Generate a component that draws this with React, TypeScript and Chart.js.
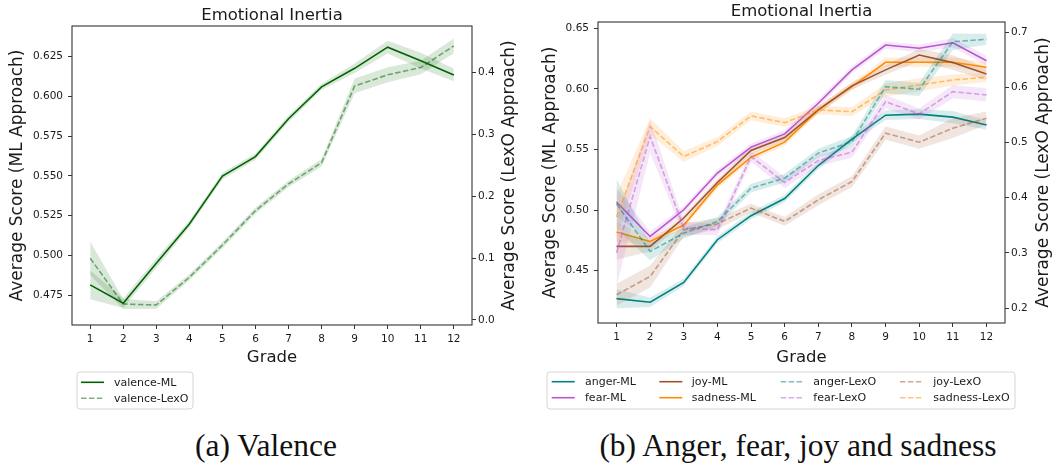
import React, { useEffect, useRef } from "react";
import { Chart, registerables } from "chart.js";

Chart.register(...registerables);

// ---------------- data ----------------
const grades = [1, 2, 3, 4, 5, 6, 7, 8, 9, 10, 11, 12];

// (a) Valence
const valenceML = [0.4815, 0.470, 0.4951, 0.5198, 0.550, 0.5622, 0.586, 0.606, 0.6177, 0.631, 0.6225, 0.6135];
const valenceMLCI = [0.009, 0.003, 0.003, 0.002, 0.002, 0.002, 0.002, 0.002, 0.003, 0.004, 0.005, 0.004];
const valenceLexO = [0.0997, 0.0258, 0.0242, 0.069, 0.121, 0.1766, 0.2197, 0.254, 0.378, 0.396, 0.4077, 0.4426];
const valenceLexOCI = [0.027, 0.008, 0.006, 0.005, 0.005, 0.005, 0.005, 0.006, 0.012, 0.012, 0.011, 0.012];

// (b) Anger, fear, joy and sadness
const angerML = [0.427, 0.424, 0.4404, 0.4756, 0.4954, 0.5096, 0.5368, 0.5586, 0.5783, 0.5792, 0.5767, 0.5703];
const angerMLCI = [0.008, 0.004, 0.003, 0.003, 0.003, 0.003, 0.003, 0.003, 0.004, 0.004, 0.005, 0.004];
const fearML = [0.5067, 0.4783, 0.5003, 0.5306, 0.552, 0.5629, 0.5882, 0.6157, 0.6362, 0.6335, 0.6381, 0.6233];
const fearMLCI = [0.012, 0.004, 0.003, 0.003, 0.003, 0.003, 0.003, 0.003, 0.003, 0.003, 0.004, 0.004];
const joyML = [0.4701, 0.4701, 0.4935, 0.5228, 0.5492, 0.5599, 0.5827, 0.6025, 0.6157, 0.628, 0.6217, 0.6124];
const joyMLCI = [0.011, 0.004, 0.003, 0.003, 0.003, 0.003, 0.003, 0.003, 0.004, 0.005, 0.006, 0.005];
const sadnessML = [0.482, 0.4742, 0.4877, 0.5207, 0.5437, 0.5561, 0.5827, 0.6019, 0.622, 0.622, 0.622, 0.6179];
const sadnessMLCI = [0.008, 0.003, 0.003, 0.003, 0.003, 0.003, 0.003, 0.003, 0.004, 0.004, 0.004, 0.004];

const angerLexO = [0.389, 0.3025, 0.3359, 0.3569, 0.4174, 0.4355, 0.4808, 0.5018, 0.6014, 0.5967, 0.683, 0.6873];
const angerLexOCI = [0.045, 0.016, 0.01, 0.008, 0.008, 0.008, 0.008, 0.01, 0.012, 0.012, 0.015, 0.01];
const fearLexO = [0.3, 0.511, 0.345, 0.3419, 0.4746, 0.4275, 0.4674, 0.4826, 0.5743, 0.552, 0.5924, 0.5864];
const fearLexOCI = [0.06, 0.03, 0.012, 0.01, 0.01, 0.01, 0.01, 0.01, 0.012, 0.01, 0.012, 0.012];
const joyLexO = [0.224, 0.2572, 0.3418, 0.3527, 0.3812, 0.357, 0.3962, 0.4293, 0.517, 0.5007, 0.5261, 0.5442];
const joyLexOCI = [0.02, 0.02, 0.012, 0.01, 0.008, 0.008, 0.01, 0.01, 0.012, 0.012, 0.018, 0.012];
const sadnessLexO = [0.365, 0.529, 0.4746, 0.5018, 0.5484, 0.5362, 0.5592, 0.5561, 0.5955, 0.6045, 0.6136, 0.6185];
const sadnessLexOCI = [0.04, 0.015, 0.01, 0.008, 0.008, 0.008, 0.008, 0.008, 0.012, 0.012, 0.01, 0.008];

// axis ranges / tick steps
const xRange = [0.45, 12.55];
const valenceMLRange = [0.4563, 0.6443];
const valenceLexORange = [-0.0081, 0.4748];
const emoMLRange = [0.4069, 0.6552];
const emoLexORange = [0.1728, 0.7187];

// ---------------- styling ----------------
const FONT = '"DejaVu Sans", Verdana, sans-serif';
const TEXT = "#1a1a1a";
const DASH = [5.5, 2.4];

type Series = {
  label: string;
  values: number[];
  ci: number[];
  color: string;
  fill: string;
  dashed: boolean;
  axis: "yL" | "yR";
};

const rgba = (hex: string, a: number) => {
  const n = parseInt(hex.slice(1), 16);
  return `rgba(${(n >> 16) & 255},${(n >> 8) & 255},${n & 255},${a})`;
};

const GREEN = "#006400";
const TEAL = "#008080";
const ORCHID = "#BA55D3";
const SIENNA = "#A0522D";
const ORANGE = "#FF8C00";

const mk = (label: string, values: number[], ci: number[], base: string, lexo: boolean): Series => ({
  label,
  values,
  ci,
  color: lexo ? rgba(base, 0.5) : base,
  fill: rgba(base, 0.15),
  dashed: lexo,
  axis: lexo ? "yR" : "yL",
});

const valenceSeries: Series[] = [
  mk("valence-ML", valenceML, valenceMLCI, GREEN, false),
  mk("valence-LexO", valenceLexO, valenceLexOCI, GREEN, true),
];

const emoSeries: Series[] = [
  mk("anger-ML", angerML, angerMLCI, TEAL, false),
  mk("fear-ML", fearML, fearMLCI, ORCHID, false),
  mk("joy-ML", joyML, joyMLCI, SIENNA, false),
  mk("sadness-ML", sadnessML, sadnessMLCI, ORANGE, false),
  mk("anger-LexO", angerLexO, angerLexOCI, TEAL, true),
  mk("fear-LexO", fearLexO, fearLexOCI, ORCHID, true),
  mk("joy-LexO", joyLexO, joyLexOCI, SIENNA, true),
  mk("sadness-LexO", sadnessLexO, sadnessLexOCI, ORANGE, true),
];

type Panel = {
  width: number;
  height: number;
  area: { left: number; right: number; top: number; bottom: number };
  series: Series[];
  yL: { range: number[]; step: number; dec: number; title: string; titleX: number; pad: number };
  yR: { range: number[]; step: number; dec: number; title: string; titleX: number; pad: number };
  gradeY: number;
  legend: {
    box: { x: number; y: number; w: number; h: number };
    lineX: number[];
    textX: number[];
    rowY: number[];
    rows: number;
  };
};

function buildDatasets(series: Series[]) {
  const ds: any[] = [];
  series.forEach((s) => {
    const lexoOrder = s.dashed ? 0 : 10;
    ds.push({
      label: s.label + " upper",
      data: grades.map((g, i) => ({ x: g, y: s.values[i] + s.ci[i] })),
      yAxisID: s.axis,
      borderColor: "rgba(0,0,0,0)",
      borderWidth: 0,
      pointRadius: 0,
      fill: false,
      order: lexoOrder + 5,
    });
    ds.push({
      label: s.label + " lower",
      data: grades.map((g, i) => ({ x: g, y: s.values[i] - s.ci[i] })),
      yAxisID: s.axis,
      borderColor: "rgba(0,0,0,0)",
      borderWidth: 0,
      pointRadius: 0,
      fill: "-1",
      backgroundColor: s.fill,
      order: lexoOrder + 5,
    });
  });
  series.forEach((s) => {
    ds.push({
      label: s.label,
      data: grades.map((g, i) => ({ x: g, y: s.values[i] })),
      yAxisID: s.axis,
      borderColor: s.color,
      borderWidth: 1.6,
      borderDash: s.dashed ? DASH : [],
      pointRadius: 0,
      fill: false,
      order: s.dashed ? 1 : 11,
    });
  });
  return ds;
}

function decorPlugin(p: Panel) {
  return {
    id: "decor",
    afterDraw(chart: any) {
      const { ctx, chartArea: a } = chart;
      ctx.save();
      // frame (all four spines)
      ctx.strokeStyle = "#333";
      ctx.lineWidth = 1.1;
      ctx.setLineDash([]);
      ctx.strokeRect(a.left, a.top, a.right - a.left, a.bottom - a.top);

      const cx = (a.left + a.right) / 2;
      const cy = (a.top + a.bottom) / 2;
      ctx.fillStyle = TEXT;
      // title
      ctx.font = `16.5px ${FONT}`;
      ctx.textAlign = "center";
      ctx.textBaseline = "alphabetic";
      ctx.fillText("Emotional Inertia", cx, a.top - 6);
      // x title
      ctx.font = `16.5px ${FONT}`;
      ctx.fillText("Grade", cx, p.gradeY);
      // y titles, both reading bottom-to-top
      ctx.font = `17px ${FONT}`;
      ctx.textBaseline = "middle";
      [p.yL, p.yR].forEach((ax) => {
        ctx.save();
        ctx.translate(ax.titleX, cy);
        ctx.rotate(-Math.PI / 2);
        ctx.fillText(ax.title, 0, 0);
        ctx.restore();
      });

      // legend
      const L = p.legend;
      const b = L.box;
      ctx.beginPath();
      const r = 3;
      ctx.moveTo(b.x + r, b.y);
      ctx.lineTo(b.x + b.w - r, b.y);
      ctx.arcTo(b.x + b.w, b.y, b.x + b.w, b.y + r, r);
      ctx.lineTo(b.x + b.w, b.y + b.h - r);
      ctx.arcTo(b.x + b.w, b.y + b.h, b.x + b.w - r, b.y + b.h, r);
      ctx.lineTo(b.x + r, b.y + b.h);
      ctx.arcTo(b.x, b.y + b.h, b.x, b.y + b.h - r, r);
      ctx.lineTo(b.x, b.y + r);
      ctx.arcTo(b.x, b.y, b.x + r, b.y, r);
      ctx.closePath();
      ctx.fillStyle = "rgba(255,255,255,0.8)";
      ctx.fill();
      ctx.strokeStyle = "#d6d6d6";
      ctx.lineWidth = 1;
      ctx.stroke();

      ctx.font = `11px ${FONT}`;
      ctx.textAlign = "left";
      ctx.textBaseline = "middle";
      p.series.forEach((s, i) => {
        const col = Math.floor(i / L.rows);
        const row = i % L.rows;
        const y = L.rowY[row];
        const x0 = L.lineX[col];
        ctx.strokeStyle = s.color;
        ctx.lineWidth = 1.6;
        ctx.setLineDash(s.dashed ? DASH : []);
        ctx.beginPath();
        ctx.moveTo(x0, y);
        ctx.lineTo(x0 + 23, y);
        ctx.stroke();
        ctx.setLineDash([]);
        ctx.fillStyle = TEXT;
        ctx.fillText(s.label, L.textX[col], y + 0.5);
      });
      ctx.restore();
    },
  };
}

function makeConfig(p: Panel): any {
  const tickFont = { family: FONT, size: 10.5 };
  const grid = { display: true, drawOnChartArea: false, drawTicks: true, tickLength: 4, color: "#333", lineWidth: 1 };
  const yScale = (ax: Panel["yL"], pos: "left" | "right") => ({
    type: "linear",
    position: pos,
    min: ax.range[0],
    max: ax.range[1],
    grid,
    border: { display: false },
    ticks: {
      stepSize: ax.step,
      includeBounds: false,
      autoSkip: false,
      font: tickFont,
      color: TEXT,
      padding: ax.pad,
      callback: (v: any) => Number(v).toFixed(ax.dec),
    },
    afterFit: (s: any) => {
      s.width = pos === "left" ? p.area.left : p.width - p.area.right;
    },
  });
  return {
    type: "line",
    data: { datasets: buildDatasets(p.series) },
    options: {
      responsive: false,
      maintainAspectRatio: false,
      animation: false,
      events: [],
      layout: { padding: { top: p.area.top, left: 0, right: 0, bottom: 0 } },
      plugins: {
        legend: { display: false },
        title: { display: false },
        tooltip: { enabled: false },
        filler: { propagate: false, drawTime: "beforeDatasetDraw" },
      },
      scales: {
        x: {
          type: "linear",
          min: xRange[0],
          max: xRange[1],
          grid,
          border: { display: false },
          ticks: {
            stepSize: 1,
            includeBounds: false,
            autoSkip: false,
            maxRotation: 0,
            font: tickFont,
            color: TEXT,
            padding: 4,
            callback: (v: any) => String(v),
          },
          afterFit: (s: any) => {
            s.height = p.height - p.area.bottom;
          },
        },
        yL: yScale(p.yL, "left"),
        yR: yScale(p.yR, "right"),
      },
    },
    plugins: [decorPlugin(p)],
  };
}

const panelA: Panel = {
  width: 530,
  height: 420,
  area: { left: 72, right: 472, top: 26, bottom: 325 },
  series: valenceSeries,
  yL: { range: valenceMLRange, step: 0.025, dec: 3, title: "Average Score (ML Approach)", titleX: 17.5, pad: 5 },
  yR: { range: valenceLexORange, step: 0.1, dec: 1, title: "Average Score (LexO Approach)", titleX: 510, pad: 2 },
  gradeY: 362,
  legend: {
    box: { x: 77, y: 372, w: 116, h: 37 },
    lineX: [81],
    textX: [114],
    rowY: [382.3, 398.3],
    rows: 2,
  },
};

const panelB: Panel = {
  width: 523,
  height: 420,
  area: { left: 68, right: 475, top: 22, bottom: 323 },
  series: emoSeries,
  yL: { range: emoMLRange, step: 0.05, dec: 2, title: "Average Score (ML Approach)", titleX: 20.5, pad: 5 },
  yR: { range: emoLexORange, step: 0.1, dec: 1, title: "Average Score (LexO Approach)", titleX: 514, pad: 2 },
  gradeY: 362,
  legend: {
    box: { x: 17, y: 372, w: 468, h: 37 },
    lineX: [21.7, 129.3, 250.7, 370],
    textX: [55, 161.7, 283.3, 403.3],
    rowY: [381.7, 397.7],
    rows: 2,
  },
};

function ChartPanel({ panel, left }: { panel: Panel; left: number }) {
  const ref = useRef<HTMLCanvasElement | null>(null);
  useEffect(() => {
    if (!ref.current) return;
    const chart = new Chart(ref.current, makeConfig(panel));
    return () => chart.destroy();
  }, [panel]);
  return (
    <canvas
      ref={ref}
      width={panel.width}
      height={panel.height}
      style={{ position: "absolute", left, top: 0, width: panel.width, height: panel.height }}
    />
  );
}

const captionStyle: React.CSSProperties = {
  position: "absolute",
  top: 430,
  fontFamily: '"Liberation Serif", "DejaVu Serif", serif',
  fontSize: 31.5,
  lineHeight: "31px",
  color: "#111",
  textAlign: "center",
  whiteSpace: "nowrap",
};

export default function App() {
  return (
    <div
      style={{
        position: "fixed",
        left: 0,
        top: 0,
        width: 1053,
        height: 470,
        background: "#fff",
        overflow: "hidden",
      }}
    >
      <ChartPanel panel={panelA} left={0} />
      <ChartPanel panel={panelB} left={530} />
      <div style={{ ...captionStyle, left: 166, width: 200 }}>(a) Valence</div>
      <div style={{ ...captionStyle, left: 598, width: 400 }}>(b) Anger, fear, joy and sadness</div>
    </div>
  );
}
